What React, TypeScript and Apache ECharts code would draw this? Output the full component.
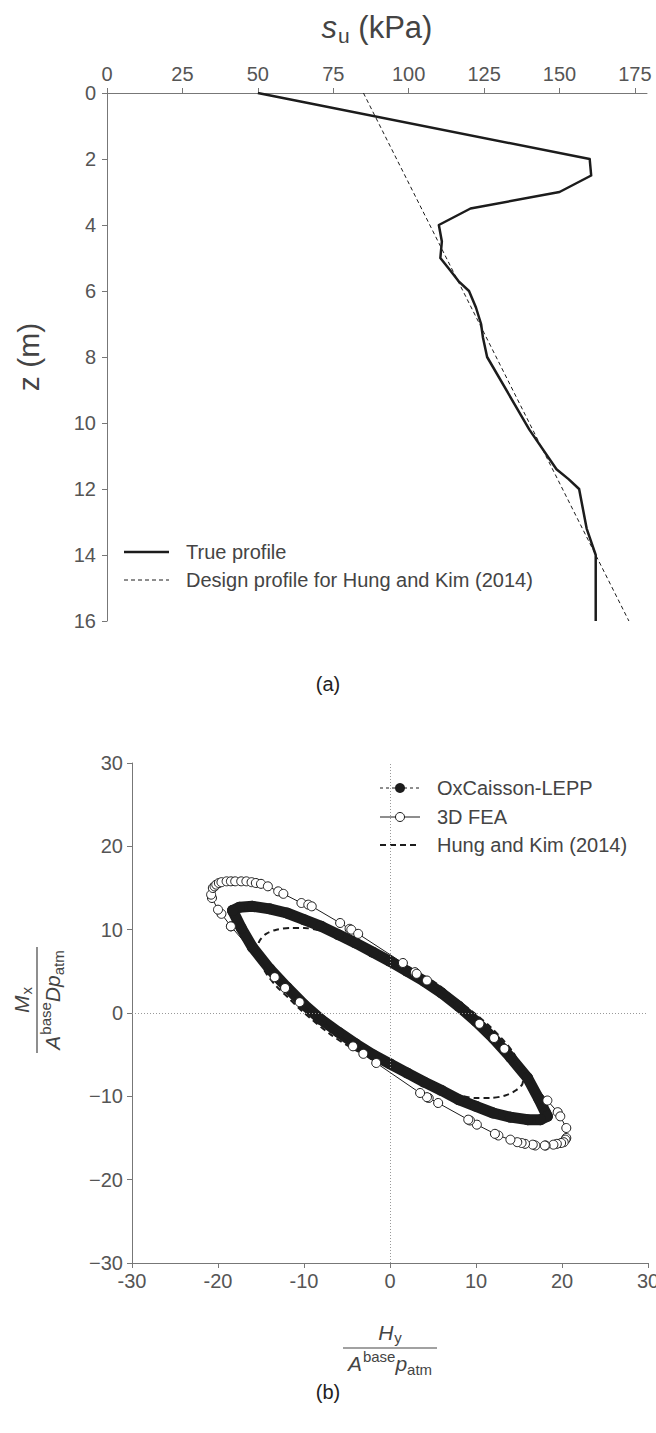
import React, { useEffect, useRef } from "react";
import * as echarts from "echarts";

// ---------- Chart (a): undrained shear strength profile ----------
const suTicks = [0, 25, 50, 75, 100, 125, 150, 175];
const depthTicks = [0, 2, 4, 6, 8, 10, 12, 14, 16];
const trueProfileSu = [50, 160, 160.5, 150, 120.5, 110, 111, 110.5, 114, 116.5, 120, 122.3, 124, 124.6, 126, 140, 149, 153, 156.5, 159, 162, 162];
const trueProfileZ = [0, 2, 2.5, 3, 3.5, 4, 4.5, 5, 5.4, 5.7, 6, 6.5, 7, 7.4, 8, 10.2, 11.4, 11.7, 12, 13.2, 14, 16];
const designProfileSu = [85, 173];
const designProfileZ = [0, 16];

// ---------- Chart (b): H-M failure envelopes ----------
const loadTicks = [-30, -20, -10, 0, 10, 20, 30];
const leppH = [-18.3, -17.5, -16, -14, -12, -10, -8, -6, -4, -2, 0, 2, 4, 6, 8, 10, 12, 14, 16, 17.3, 18.1,
  18.3, 17.5, 16, 14, 12, 10, 8, 6, 4, 2, 0, -2, -4, -6, -8, -10, -12, -14, -16, -17.3, -18.3];
const leppM = [12.3, 12.7, 12.8, 12.5, 12.0, 11.2, 10.4, 9.4, 8.4, 7.3, 6.2, 5.0, 3.8, 2.4, 0.8, -1.0, -3.0, -5.3, -7.8, -10.3, -12.0,
  -12.4, -12.8, -12.8, -12.5, -12.0, -11.2, -10.4, -9.3, -8.3, -7.2, -6.1, -5.0, -3.7, -2.3, -0.8, 1.0, 3.1, 5.3, 7.9, 10.2, 12.3];
const feaH = [-18.5, -19.6, -20.0, -20.7, -20.8, -20.6, -20.4, -20.2, -19.9, -19.6, -19.0, -18.5, -18.0, -17.3, -16.7, -16.1, -15.6, -15.0, -14.2, -13.0, -12.4, -10.3, -9.5, -9.1, -5.8, -4.7, -4.5, -3.7, 1.5, 2.9, 3.1, 4.3, 10.4, 12.1, 13.3,
  18.3, 19.5, 19.8, 20.5, 20.5, 20.4, 20.2, 19.9, 19.4, 19.0, 18.1, 18.0, 16.9, 16.6, 15.7, 15.3, 14.8, 14.0, 12.6, 12.2, 10.1, 9.3, 9.1, 5.6, 4.5, 4.3, 3.5, -1.6, -3.1, -4.3, -10.5, -12.2, -13.4, -18.5];
const feaM = [10.4, 11.9, 12.4, 13.8, 14.2, 15.0, 15.2, 15.4, 15.6, 15.7, 15.8, 15.8, 15.8, 15.8, 15.8, 15.7, 15.6, 15.5, 15.2, 14.6, 14.3, 13.2, 13.0, 12.8, 10.8, 10.1, 10.0, 9.5, 6.0, 4.9, 4.7, 3.9, -1.3, -3.0, -4.3,
  -10.5, -11.9, -12.4, -13.8, -15.0, -15.2, -15.5, -15.6, -15.7, -15.8, -15.9, -15.9, -15.9, -15.8, -15.7, -15.6, -15.5, -15.2, -14.7, -14.5, -13.4, -12.9, -12.8, -10.8, -10.2, -10.1, -9.6, -6.0, -4.9, -4.0, 1.3, 3.0, 4.3, 10.4];
const hkH = [-15.5, -15.2, -14.4, -13.2, -11.5, -10.0, -8.2, -5.8, -3.0, 0, 2.5, 4.9, 7.5, 9.9, 11.8, 13.2, 14.3, 15.0, 15.5, 15.4, 14.6, 13.4, 11.6, 10.0, 8.2, 5.8, 3.0, 0, -2.5, -4.3, -7.0, -10.3, -11.8, -13.2, -14.3, -15.0, -15.5];
const hkM = [7.2, 8.6, 9.5, 10.0, 10.2, 10.2, 9.9, 9.2, 7.9, 6.3, 5.0, 3.9, 1.8, -0.1, -1.8, -3.3, -4.7, -6.1, -7.4, -8.5, -9.3, -9.9, -10.2, -10.2, -9.9, -9.2, -7.9, -6.3, -5.2, -4.3, -2.5, 0.3, 1.8, 3.2, 4.6, 5.9, 7.2];

const FONT = "'Liberation Sans', Arial, Helvetica, sans-serif";
const TEXT = "#444";
const AXIS = "#777";
const INK = "#1c1c1c";

const zip = (a: number[], b: number[]) => a.map((v, i) => [v, b[i]]);

let measureCtx: CanvasRenderingContext2D | null = null;
function measure(text: string, size: number, italic?: boolean) {
  if (!measureCtx) measureCtx = document.createElement("canvas").getContext("2d");
  if (!measureCtx) return text.length * size * 0.55;
  measureCtx.font = `${italic ? "italic " : ""}${size}px ${FONT}`;
  return measureCtx.measureText(text).width;
}

type Seg = { t: string; size: number; italic?: boolean; dy?: number; gap?: number };
function inlineText(segs: Seg[], cy: number, color: string) {
  const widths = segs.map((s) => measure(s.t, s.size, s.italic) + (s.gap || 0));
  const total = widths.reduce((a, b) => a + b, 0);
  let x = -total / 2;
  return segs.map((s, i) => {
    const el = {
      type: "text",
      x,
      y: cy + (s.dy || 0),
      silent: true,
      style: {
        text: s.t,
        fontSize: s.size,
        fontFamily: FONT,
        fontStyle: s.italic ? "italic" : "normal",
        fill: color,
        align: "left",
        verticalAlign: "middle",
        textAlign: "left",
        textVerticalAlign: "middle",
      },
    };
    x += widths[i];
    return el;
  });
}

function plainText(text: string, x: number, y: number, size: number, color: string, align = "left", rotation = 0) {
  return {
    type: "text",
    x,
    y,
    rotation,
    silent: true,
    style: {
      text,
      fontSize: size,
      fontFamily: FONT,
      fill: color,
      align,
      verticalAlign: "middle",
      textAlign: align,
      textVerticalAlign: "middle",
    },
  };
}

function hLine(x1: number, x2: number, y: number, width: number, dash?: number[]) {
  return {
    type: "line",
    silent: true,
    shape: { x1, y1: y, x2, y2: y },
    style: { stroke: INK, lineWidth: width, lineDash: dash || null },
  };
}

export default function App() {
  const ref = useRef<HTMLDivElement>(null);
  useEffect(() => {
    if (!ref.current) return;
    const chart = echarts.init(ref.current, undefined, { renderer: "svg" });

    const axisCommon = {
      type: "value",
      splitLine: { show: false },
      axisLine: { show: true, onZero: false, lineStyle: { color: AXIS, width: 1 } },
      axisTick: { show: true, inside: false, length: 5, lineStyle: { color: AXIS } },
      axisLabel: { color: "#555", fontSize: 20, fontFamily: FONT },
    };

    const denomFrac = (withD: boolean) => {
      const segs: Seg[] = [
        { t: "A", size: 21, italic: true, gap: 1 },
        { t: "base", size: 15, dy: -7 },
      ];
      if (withD) segs.push({ t: "D", size: 21, italic: true });
      segs.push({ t: "p", size: 21, italic: true, dy: 0 });
      segs.push({ t: "atm", size: 15, dy: 6 });
      return segs;
    };

    const graphic: any[] = [
      // chart (a) titles
      { type: "group", x: 377, y: 27, children: inlineText([
        { t: "s", size: 31, italic: true, gap: 1 },
        { t: "u", size: 21, dy: 8 },
        { t: " (kPa)", size: 31 },
      ], 0, TEXT) },
      plainText("z (m)", 28, 357, 30, TEXT, "center", Math.PI / 2),
      // chart (a) legend
      hLine(124, 169, 552, 2.5),
      plainText("True profile", 186, 552, 20, TEXT),
      hLine(124, 169, 580, 1, [4, 3]),
      plainText("Design profile for Hung and Kim (2014)", 186, 580, 20, TEXT),
      plainText("(a)", 328, 684, 20, "#222", "center"),
      // chart (b) x title
      { type: "group", x: 390, y: 1348, children: [
        ...inlineText([{ t: "H", size: 21, italic: true, gap: 1 }, { t: "y", size: 15, dy: 5 }], -16, TEXT),
        { type: "line", silent: true, shape: { x1: -47, y1: 0, x2: 47, y2: 0 }, style: { stroke: TEXT, lineWidth: 1.2 } },
        ...inlineText(denomFrac(false), 15, TEXT),
      ] },
      // chart (b) y title (rotated)
      { type: "group", x: 37, y: 1000, rotation: Math.PI / 2, children: [
        ...inlineText([{ t: "M", size: 21, italic: true, gap: 1 }, { t: "x", size: 15, dy: 5 }], -16, TEXT),
        { type: "line", silent: true, shape: { x1: -53, y1: 0, x2: 53, y2: 0 }, style: { stroke: TEXT, lineWidth: 1.2 } },
        ...inlineText(denomFrac(true), 15, TEXT),
      ] },
      // chart (b) legend
      hLine(380, 420, 788, 1, [3, 3]),
      { type: "circle", silent: true, shape: { cx: 400, cy: 788, r: 5 }, style: { fill: INK } },
      plainText("OxCaisson-LEPP", 437, 788, 20, TEXT),
      hLine(380, 420, 817, 1),
      { type: "circle", silent: true, shape: { cx: 400, cy: 817, r: 4.5 }, style: { fill: "#fff", stroke: INK, lineWidth: 1 } },
      plainText("3D FEA", 437, 817, 20, TEXT),
      hLine(380, 420, 845, 2, [6, 4]),
      plainText("Hung and Kim (2014)", 437, 845, 20, TEXT),
      plainText("(b)", 328, 1392, 20, "#222", "center"),
    ];

    chart.setOption({
      animation: false,
      backgroundColor: "#ffffff",
      textStyle: { fontFamily: FONT },
      grid: [
        { left: 107, top: 93, width: 540, height: 528, containLabel: false, outerBoundsMode: "none" },
        { left: 132, top: 763, width: 516, height: 500, containLabel: false, outerBoundsMode: "none" },
      ],
      xAxis: [
        {
          ...axisCommon,
          gridIndex: 0,
          position: "top",
          min: 0,
          max: 179,
          interval: 25,
          axisTick: { ...axisCommon.axisTick, customValues: suTicks },
          axisLabel: { ...axisCommon.axisLabel, margin: 9, customValues: suTicks },
        },
        {
          ...axisCommon,
          gridIndex: 1,
          position: "bottom",
          min: -30,
          max: 30,
          interval: 10,
          axisTick: { ...axisCommon.axisTick, customValues: loadTicks },
          axisLabel: { ...axisCommon.axisLabel, margin: 8, customValues: loadTicks, formatter: (v: number) => String(v) },
        },
      ],
      yAxis: [
        {
          ...axisCommon,
          gridIndex: 0,
          inverse: true,
          min: 0,
          max: 16,
          interval: 2,
          axisTick: { ...axisCommon.axisTick, customValues: depthTicks },
          axisLabel: { ...axisCommon.axisLabel, margin: 11, customValues: depthTicks },
        },
        {
          ...axisCommon,
          gridIndex: 1,
          min: -30,
          max: 30,
          interval: 10,
          axisTick: { ...axisCommon.axisTick, customValues: loadTicks },
          axisLabel: {
            ...axisCommon.axisLabel,
            margin: 9,
            customValues: loadTicks,
            formatter: (v: number) => String(v).replace("-", "\u2212"),
          },
        },
      ],
      series: [
        {
          name: "True profile",
          type: "line",
          xAxisIndex: 0,
          yAxisIndex: 0,
          data: zip(trueProfileSu, trueProfileZ),
          symbol: "none",
          lineStyle: { color: INK, width: 2.5, join: "round" },
          z: 3,
        },
        {
          name: "Design profile for Hung and Kim (2014)",
          type: "line",
          xAxisIndex: 0,
          yAxisIndex: 0,
          data: zip(designProfileSu, designProfileZ),
          symbol: "none",
          lineStyle: { color: INK, width: 1, type: [4, 3] },
          z: 2,
        },
        {
          name: "Hung and Kim (2014)",
          type: "line",
          xAxisIndex: 1,
          yAxisIndex: 1,
          data: zip(hkH, hkM),
          symbol: "none",
          smooth: 0.3,
          lineStyle: { color: INK, width: 2, type: [6, 4] },
          z: 2,
          markLine: {
            silent: true,
            symbol: "none",
            label: { show: false },
            lineStyle: { color: "#999", width: 1, type: [1, 2] },
            data: [{ xAxis: 0 }, { yAxis: 0 }],
          },
        },
        {
          name: "OxCaisson-LEPP",
          type: "line",
          xAxisIndex: 1,
          yAxisIndex: 1,
          data: zip(leppH, leppM),
          symbol: "circle",
          symbolSize: 11,
          showSymbol: true,
          itemStyle: { color: INK },
          lineStyle: { color: INK, width: 11, join: "round", cap: "round" },
          z: 3,
        },
        {
          name: "3D FEA",
          type: "line",
          xAxisIndex: 1,
          yAxisIndex: 1,
          data: zip(feaH, feaM),
          symbol: "circle",
          symbolSize: 9,
          showSymbol: true,
          itemStyle: { color: "#fff", borderColor: INK, borderWidth: 1 },
          lineStyle: { color: INK, width: 1 },
          z: 4,
        },
      ],
      graphic,
    });

    return () => chart.dispose();
  }, []);

  return (
    <div
      ref={ref}
      style={{ position: "absolute", left: 0, top: 0, width: 656, height: 1433, background: "#fff" }}
    />
  );
}
